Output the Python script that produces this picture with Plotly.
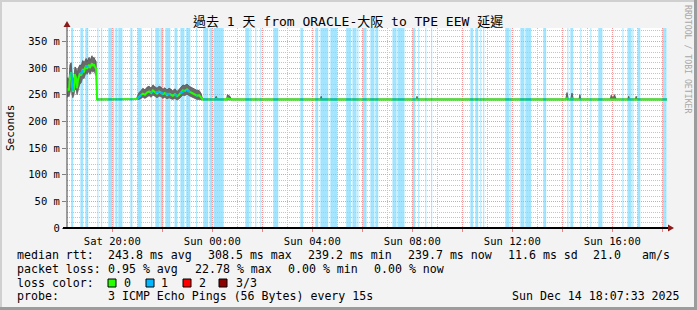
import numpy as np
import pandas as pd
import plotly.graph_objects as go

# ---------------- data ----------------
T0 = pd.Timestamp("2025-12-13 18:11:15")   # left edge of the graph
SPAN_MIN = 24 * 60

# median rtt and smoke envelope (ms), time = minutes after T0
t_min = [0, 2, 5, 7, 10, 12, 14, 17, 19, 22, 24, 26, 29, 31, 34, 36, 38, 41, 43, 46, 48, 50, 53, 55, 58, 60, 62, 65, 67, 70,
         72, 74, 90, 110, 130, 150, 166,
         168, 173, 178, 182, 187, 192, 197, 202, 206, 211, 216, 221, 226, 230, 235, 240, 245, 250, 254, 259, 264, 269,
         274, 278, 283, 288, 293, 298, 302, 307, 312, 317, 322, 324,
         326, 355, 358, 361, 383, 385, 388, 391, 394, 450, 520, 608, 610, 612, 700, 838, 840, 842, 1000,
         1197, 1200, 1203, 1209, 1212, 1215, 1229, 1231, 1233, 1304, 1306, 1310, 1314, 1318, 1346, 1348, 1350,
         1364, 1366, 1368, 1440]
med = [256, 262, 258, 285, 292, 268, 255, 262, 288, 280, 262, 276, 284, 290, 286, 294, 298, 292, 300, 304, 298, 303, 306, 300, 305, 309, 304, 307, 302, 298,
       241, 241, 241, 241, 241, 241, 241,
       242, 246, 249, 252, 250, 254, 256, 253, 258, 255, 252, 256, 254, 251, 253, 249, 252, 250, 248, 251, 247, 250,
       254, 258, 257, 260, 256, 254, 252, 250, 248, 249, 245, 242,
       241, 241, 242, 241, 241, 243, 243, 242, 241, 241, 241, 241, 242, 241, 241, 241, 242, 241, 241,
       241, 243, 241, 241, 243, 241, 241, 242, 241, 241, 242, 241, 242, 241, 241, 242, 241,
       241, 242, 241, 241]
lo = [244, 248, 246, 255, 262, 250, 244, 250, 262, 258, 250, 255, 262, 270, 272, 276, 282, 280, 286, 292, 288, 290, 294, 288, 292, 296, 292, 295, 290, 284,
      240, 240, 240, 240, 240, 240, 240,
      240, 241, 243, 245, 243, 246, 248, 245, 249, 247, 244, 247, 246, 243, 245, 242, 244, 242, 241, 243, 240, 242,
      246, 249, 248, 251, 248, 246, 244, 242, 241, 241, 240, 240,
      240, 240, 240, 240, 240, 240, 240, 240, 240, 240, 240, 240, 240, 240, 240, 240, 240, 240, 240,
      240, 240, 240, 240, 240, 240, 240, 240, 240, 240, 240, 240, 240, 240, 240, 240, 240,
      240, 240, 240, 240]
hi = [270, 282, 276, 306, 310, 292, 270, 284, 302, 300, 286, 298, 303, 306, 304, 310, 314, 310, 314, 318, 312, 316, 320, 314, 318, 323, 318, 320, 316, 312,
      242, 242, 242, 242, 242, 242, 242,
      245, 254, 258, 262, 259, 264, 266, 262, 268, 265, 262, 266, 264, 260, 263, 259, 262, 260, 257, 261, 256, 260,
      264, 268, 267, 270, 266, 264, 262, 260, 258, 258, 252, 246,
      242, 242, 247, 242, 242, 250, 248, 247, 242, 242, 242, 242, 247, 242, 242, 242, 247, 242, 242,
      242, 254, 242, 242, 253, 242, 242, 250, 242, 242, 249, 243, 250, 242, 242, 247, 242,
      242, 247, 242, 242]

# periods with 1 of 3 pings lost (start minute after T0, duration minutes)
loss_start_min = [10, 32, 44, 73, 82, 99, 111, 116, 123, 152, 169, 202, 212, 224, 236, 258, 272, 286, 310,
                  327, 342, 352, 428, 440, 452, 464, 495, 560, 596, 608, 632, 639, 670, 685, 697, 709,
                  728, 740, 781, 793, 829, 843, 860, 874, 968, 980, 992, 999, 1052, 1064, 1088, 1100,
                  1143, 1201, 1208, 1232, 1256, 1275, 1333, 1345, 1357, 1369, 1429]
loss_dur_min = [5, 7, 7, 2.4, 2.4, 10, 2.4, 5, 10, 5, 10, 2.4, 10, 7, 12, 7, 10, 10, 2.4,
                12, 7, 24, 10, 2.4, 2.4, 2.4, 12, 7, 7, 19, 7, 10, 12, 10, 2.4, 10,
                10, 7, 10, 17, 7, 2.4, 2.4, 2.4, 7, 7, 2.4, 2.4, 10, 2.4, 10, 14,
                7, 2.4, 7, 2.4, 2.4, 10, 2.4, 10, 2.4, 7, 10]

y_tickvals = [0, 50, 100, 150, 200, 250, 300, 350]
y_ticktext = ["0", "50 m", "100 m", "150 m", "200 m", "250 m", "300 m", "350 m"]
x_tickvals = ["2025-12-13 20:00", "2025-12-13 22:00", "2025-12-14 00:00", "2025-12-14 02:00",
              "2025-12-14 04:00", "2025-12-14 06:00", "2025-12-14 08:00", "2025-12-14 10:00",
              "2025-12-14 12:00", "2025-12-14 14:00", "2025-12-14 16:00", "2025-12-14 18:00"]
x_ticktext = ["Sat 20:00", "", "Sun 00:00", "", "Sun 04:00", "", "Sun 08:00", "",
              "Sun 12:00", "", "Sun 16:00", ""]

title_text = "過去 1 天 from ORACLE-大阪 to TPE EEW 延遲"
legend_rows = [
    [("median rtt:", 16), ("243.8 ms avg", 107), ("308.5 ms max", 207), ("239.2 ms min", 307),
     ("239.7 ms now", 407), ("11.6 ms sd", 507), ("21.0", 592), ("am/s", 641)],
    [("packet loss:", 16), ("0.95 % avg", 107), ("22.78 % max", 194), ("0.00 % min", 287),
     ("0.00 % now", 373)],
    [("loss color:", 16), ("0", 123), ("1", 160), ("2", 198), ("3/3", 235)],
    [("probe:", 16), ("3 ICMP Echo Pings (56 Bytes) every 15s", 107)],
]
loss_colors = ["#26ff00", "#00b8ff", "#ff0000", "#8b0000"]
loss_box_x = [108, 146, 183, 219]
stamp = "Sun Dec 14 18:07:33 2025"

# ---------------- layout constants ----------------
W_FIG, H_FIG = 697, 310
L, T, PW, PH = 67, 28, 600, 200
MONO = "DejaVu Sans Mono, Noto Sans CJK TC, monospace"


def px(x):
    return (x - L) / PW


def py(y):
    return (T + PH - y) / PH


times = T0 + pd.to_timedelta(np.array(t_min, dtype=float), unit="m")
x_end = T0 + pd.Timedelta(minutes=SPAN_MIN)

fig = go.Figure()

# smoke
fig.add_trace(go.Scatter(x=times, y=lo, mode="lines", line=dict(width=0.6, color="#505050"),
                         hoverinfo="skip", showlegend=False))
fig.add_trace(go.Scatter(x=times, y=hi, mode="lines", line=dict(width=0.8, color="#505050"),
                         fill="tonexty", fillcolor="#6a6a6a", hoverinfo="skip", showlegend=False))
# median
fig.add_trace(go.Scatter(x=times, y=med, mode="lines", line=dict(width=2, color=loss_colors[0]),
                         showlegend=False))

# blue median segments at loss periods
seg_x, seg_y = [], []
for s, d in zip(loss_start_min, loss_dur_min):
    for m in (s, s + d):
        seg_x.append(T0 + pd.Timedelta(minutes=m))
        seg_y.append(float(np.interp(m, t_min, med)))
    seg_x.append(None)
    seg_y.append(None)
fig.add_trace(go.Scatter(x=seg_x, y=seg_y, mode="lines", line=dict(width=2, color=loss_colors[1]),
                         showlegend=False, connectgaps=False))

shapes = []
# loss background bars
for s, d in zip(loss_start_min, loss_dur_min):
    shapes.append(dict(type="rect", xref="x", yref="paper",
                       x0=T0 + pd.Timedelta(minutes=s), x1=T0 + pd.Timedelta(minutes=s + d),
                       y0=0, y1=1, fillcolor="rgba(0,184,255,0.36)", line=dict(width=0),
                       layer="below"))

# axes lines and arrows
shapes.append(dict(type="line", xref="paper", yref="paper", x0=0, x1=0, y0=0, y1=py(24),
                   line=dict(color="#404040", width=1)))
shapes.append(dict(type="line", xref="paper", yref="paper", x0=px(63), x1=px(670), y0=0, y1=0,
                   line=dict(color="#000000", width=2)))
shapes.append(dict(type="path", xref="paper", yref="paper",
                   path=f"M {px(63.5)} {py(27)} L {px(70.5)} {py(27)} L {px(67)} {py(21)} Z",
                   fillcolor="#8b1a1a", line=dict(width=0)))
shapes.append(dict(type="path", xref="paper", yref="paper",
                   path=f"M {px(668)} {py(224.5)} L {px(668)} {py(231.5)} L {px(674)} {py(228)} Z",
                   fillcolor="#8b1a1a", line=dict(width=0)))

# legend colour boxes
for c, bx in zip(loss_colors, loss_box_x):
    shapes.append(dict(type="rect", xref="paper", yref="paper",
                       x0=px(bx), x1=px(bx + 8), y0=py(287), y1=py(279),
                       fillcolor=c, line=dict(color="#000000", width=1)))

# frame (3D border)
shapes.append(dict(type="rect", xref="paper", yref="paper", x0=px(0), x1=px(697), y0=py(0), y1=py(2),
                   fillcolor="#d0d0d0", line=dict(width=0)))
shapes.append(dict(type="rect", xref="paper", yref="paper", x0=px(0), x1=px(2), y0=py(0), y1=py(310),
                   fillcolor="#d0d0d0", line=dict(width=0)))
shapes.append(dict(type="rect", xref="paper", yref="paper", x0=px(694), x1=px(697), y0=py(0), y1=py(310),
                   fillcolor="#9c9c9c", line=dict(width=0)))
shapes.append(dict(type="rect", xref="paper", yref="paper", x0=px(0), x1=px(697), y0=py(307), y1=py(310),
                   fillcolor="#9c9c9c", line=dict(width=0)))

annotations = []


def ann(text, x, y, size=11.6, xanchor="left", color="#000000", angle=0, family=MONO):
    annotations.append(dict(text=text, x=px(x), y=py(y), xref="paper", yref="paper",
                            xanchor=xanchor, yanchor="middle", showarrow=False, textangle=angle,
                            borderpad=0, font=dict(family=family, size=size, color=color)))


ann(title_text, 348, 21, size=13, xanchor="center")
ann("Seconds", 10, 128, size=11, xanchor="center", angle=-90)
ann("RRDTOOL / TOBI OETIKER", 688, 59, size=8.2, xanchor="center", angle=90, color="#a8a8a8")

row_y = [255, 268.5, 282.5, 296]
for row, yy in zip(legend_rows, row_y):
    for text, xx in row:
        ann(text, xx, yy)
ann(stamp, 681, 296, xanchor="right")

fig.update_layout(
    width=W_FIG, height=H_FIG,
    margin=dict(l=L, r=W_FIG - L - PW, t=T, b=H_FIG - T - PH, pad=0),
    paper_bgcolor="#f3f3f3", plot_bgcolor="#ffffff",
    showlegend=False,
    shapes=shapes, annotations=annotations,
    font=dict(family=MONO, color="#000000"),
    xaxis=dict(type="date", range=[T0, x_end], tickvals=x_tickvals, ticktext=x_ticktext,
               showgrid=True, gridcolor="#f49a9a", griddash="1px,1px", gridwidth=1,
               minor=dict(dtick=3600000, tick0="2025-12-13 19:00", showgrid=True,
                          gridcolor="#c4c4c4", griddash="1px,1px", gridwidth=1, ticks=""),
               ticks="outside", ticklen=3, tickcolor="#f08080", tickwidth=1,
               tickfont=dict(family=MONO, size=10.5, color="#000000"),
               showline=False, zeroline=False, fixedrange=True),
    yaxis=dict(range=[0, 375], tickvals=y_tickvals, ticktext=y_ticktext,
               showgrid=True, gridcolor="#f49a9a", griddash="1px,1px", gridwidth=1,
               minor=dict(dtick=10, tick0=0, showgrid=True, gridcolor="#c4c4c4",
                          griddash="1px,1px", gridwidth=1, ticks=""),
               ticks="outside", ticklen=4, tickcolor="#808080", tickwidth=1,
               tickfont=dict(family=MONO, size=10.5, color="#000000"),
               showline=False, zeroline=False, fixedrange=True),
)

fig.write_html("out.html", config={"displayModeBar": False})
